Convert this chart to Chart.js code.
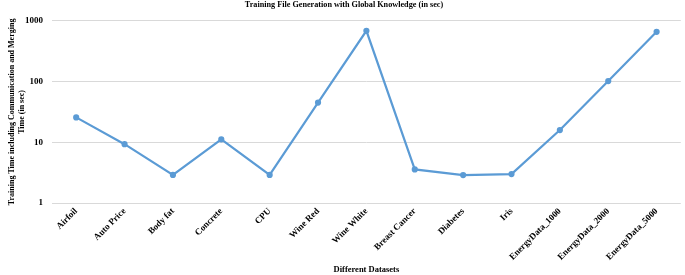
<!DOCTYPE html>
<html>
<head>
<meta charset="utf-8">
<script src="https://cdn.jsdelivr.net/npm/chart.js@4/dist/chart.umd.min.js"></script>
<style>
html,body{margin:0;padding:0;background:#fff;}
#wrap{width:685px;height:275px;position:relative;}
</style>
</head>
<body>
<div id="wrap"><canvas id="c" width="685" height="275"></canvas></div>
<script>
const categories = ["Airfoil","Auto Price","Body fat","Concrete","CPU","Wine Red","Wine White","Breast Cancer","Diabetes","Iris","EnergyData_1000","EnergyData_2000","EnergyData_5000"];
const trainingTime = [25.7, 9.3, 2.9, 11.2, 2.9, 45, 686, 3.57, 2.88, 2.99, 15.9, 102, 660];
const yTicks = [1, 10, 100, 1000];
const titleText = "Training File Generation with Global Knowledge (in sec)";
const yTitle = ["Training Time including Communication and Merging", "Time (in sec)"];
const xTitle = "Different Datasets";

const serif = "'Liberation Serif', 'Times New Roman', serif";
new Chart(document.getElementById('c'), {
  type: 'line',
  data: {
    labels: categories,
    datasets: [{
      data: trainingTime,
      borderColor: '#5b9bd5',
      backgroundColor: '#5b9bd5',
      borderWidth: 2.2,
      pointRadius: 2,
      pointHoverRadius: 2,
      tension: 0,
      fill: false
    }]
  },
  options: {
    responsive: false,
    animation: false,
    devicePixelRatio: 1,
    layout: { padding: { left: 3, right: 0, top: 0, bottom: 0 } },
    plugins: {
      legend: { display: false },
      tooltip: { enabled: false },
      title: {
        display: true,
        text: titleText,
        color: '#000',
        font: { family: serif, size: 8.2, weight: 'bold' },
        padding: { top: 0, bottom: 11 }
      }
    },
    scales: {
      x: {
        offset: true,
        grid: { display: false, drawTicks: false },
        border: { display: false },
        afterFit: (axis) => { axis.height = 72; axis.paddingRight = 0; axis.paddingLeft = 0; },
        ticks: {
          color: '#000',
          font: { family: serif, size: 9, weight: 'bold' },
          maxRotation: 45, minRotation: 45,
          autoSkip: false,
          padding: 3
        },
        title: {
          display: true,
          text: xTitle,
          color: '#000',
          font: { family: serif, size: 8.5, weight: 'bold' },
          padding: { top: 2, bottom: 0 }
        }
      },
      y: {
        type: 'logarithmic',
        min: 1, max: 1000,
        afterBuildTicks: (axis) => { axis.ticks = yTicks.map(v => ({ value: v })); },
        afterFit: (axis) => { axis.width = 49; },
        grid: { color: '#d9d9d9', lineWidth: 1, drawTicks: false },
        border: { display: false },
        ticks: {
          color: '#000',
          font: { family: serif, size: 9, weight: 'bold' },
          padding: 9,
          callback: (v) => String(v)
        },
        title: {
          display: true,
          text: yTitle,
          color: '#000',
          font: { family: serif, size: 8, weight: 'bold', lineHeight: 1.25 },
          padding: { top: 4, bottom: 4 }
        }
      }
    }
  }
});
</script>
</body>
</html>
